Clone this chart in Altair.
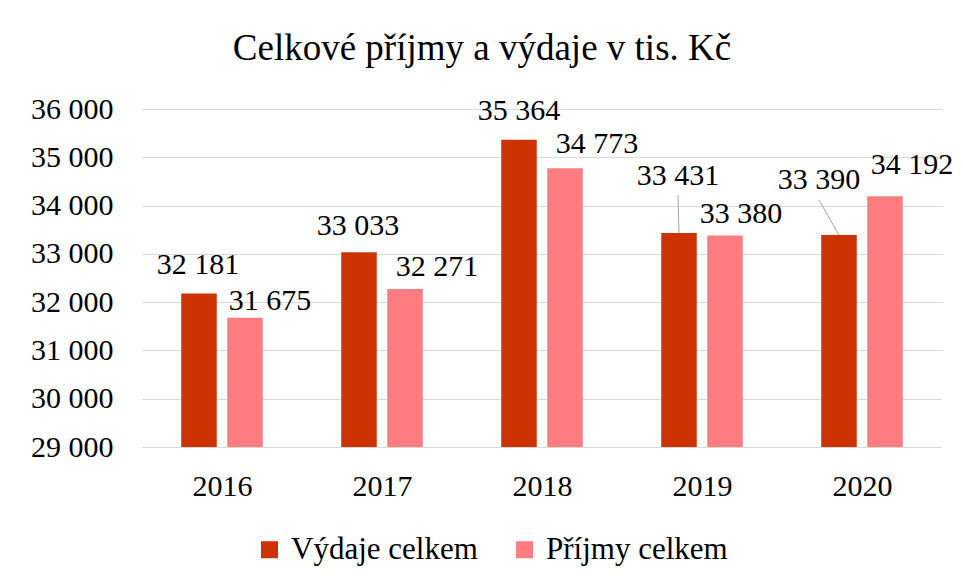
import altair as alt
import pandas as pd

# ---- data ----
years = ["2016", "2017", "2018", "2019", "2020"]
series = ["Výdaje celkem", "Příjmy celkem"]
vydaje = [32181, 33033, 35364, 33431, 33390]
prijmy = [31675, 32271, 34773, 33380, 34192]
colors = ["#CC3300", "#FF7C80"]

# label nudges in px (dx from bar centre, dy of baseline from bar top)
nudge_dx = {"Výdaje celkem": [-1, -1, 0, -1, -20], "Příjmy celkem": [25, 32, 32, 16, 27]}
nudge_dy = {"Výdaje celkem": [-19, -17, -20, -48, -46], "Příjmy celkem": [-8, -13, -15, -13, -22]}
# leader lines (series, year, x2Offset, y2Offset)
leaders = [("Výdaje celkem", "2019", -1, -38), ("Výdaje celkem", "2020", -20, -35)]

FONT = "'Liberation Serif', 'Times New Roman', 'DejaVu Serif', serif"
OFF = 0.1437   # half distance between the two bars of a group (x units)
HALF = 0.111   # half bar width (x units)

rows = []
for i, y in enumerate(years):
    for s, vals, sgn in ((series[0], vydaje, -1), (series[1], prijmy, 1)):
        v = vals[i]
        rows.append({
            "year": y, "idx": i, "series": s, "value": v,
            "pos": i + sgn * OFF, "x0": i + sgn * OFF - HALF, "x1": i + sgn * OFF + HALF,
            "label": f"{v:,}".replace(",", " "),
        })
df = pd.DataFrame(rows)

label_expr = "[" + ",".join(f"'{y}'" for y in years) + "][datum.value]"

xscale = alt.Scale(domain=[-0.5, 4.5], nice=False, zero=False)
yscale = alt.Scale(domain=[29000, 36000], nice=False, zero=False)

base = alt.Chart(df)

bars = base.mark_bar().encode(
    x=alt.X("x0:Q", scale=xscale, title=None,
            axis=alt.Axis(values=list(range(len(years))), labelExpr=label_expr,
                          grid=False, ticks=False, domain=False,
                          labelFont=FONT, labelFontSize=30, labelColor="#000000",
                          labelPadding=24)),
    x2="x1:Q",
    y=alt.Y("value:Q", scale=yscale, title=None,
            axis=alt.Axis(values=list(range(29000, 36001, 1000)),
                          labelExpr="replace(format(datum.value, ','), ',', ' ')",
                          grid=True, gridColor="#d9d9d9", gridWidth=1,
                          ticks=False, domain=False,
                          labelFont=FONT, labelFontSize=30, labelColor="#000000",
                          labelPadding=29)),
    y2=alt.datum(29000),
    color=alt.Color("series:N", scale=alt.Scale(domain=series, range=colors),
                    sort=series,
                    legend=alt.Legend(title=None, orient="none", direction="horizontal",
                                      legendX=112, legendY=425,
                                      symbolType="square", symbolSize=289,
                                      symbolStrokeWidth=0,
                                      labelFont=FONT, labelFontSize=31, labelLimit=400,
                                      labelColor="#000000", labelOffset=6,
                                      columnPadding=31, padding=0)),
)

layers = [bars]
for s in series:
    for i, y in enumerate(years):
        layers.append(
            base.transform_filter(
                (alt.datum.series == s) & (alt.datum.year == y)
            ).mark_text(font=FONT, fontSize=30, color="#000000", baseline="alphabetic",
                        align="center", dx=nudge_dx[s][i], dy=nudge_dy[s][i]).encode(
                x=alt.X("pos:Q", scale=xscale),
                y=alt.Y("value:Q", scale=yscale),
                text="label:N",
            )
        )

for s, y, ox, oy in leaders:
    layers.append(
        base.transform_filter(
            (alt.datum.series == s) & (alt.datum.year == y)
        ).mark_rule(color="#a6a6a6", strokeWidth=1, x2Offset=ox, y2Offset=oy).encode(
            x=alt.X("pos:Q", scale=xscale),
            x2="pos:Q",
            y=alt.Y("value:Q", scale=yscale),
            y2="value:Q",
        )
    )

chart = alt.layer(*layers).properties(
    width=800, height=338,
    background="#ffffff",
    title=alt.TitleParams("Celkové příjmy a výdaje v tis. Kč", font=FONT, fontSize=37,
                          fontWeight="normal", color="#000000", anchor="middle",
                          frame="group", dx=-60, baseline="alphabetic", offset=-3),
    autosize=alt.AutoSizeParams(type="none"),
    padding={"left": 134, "top": 101, "right": 13, "bottom": 124},
).configure_view(stroke=None)

chart.save("out.html", embed_options={"renderer": "svg", "actions": False})
